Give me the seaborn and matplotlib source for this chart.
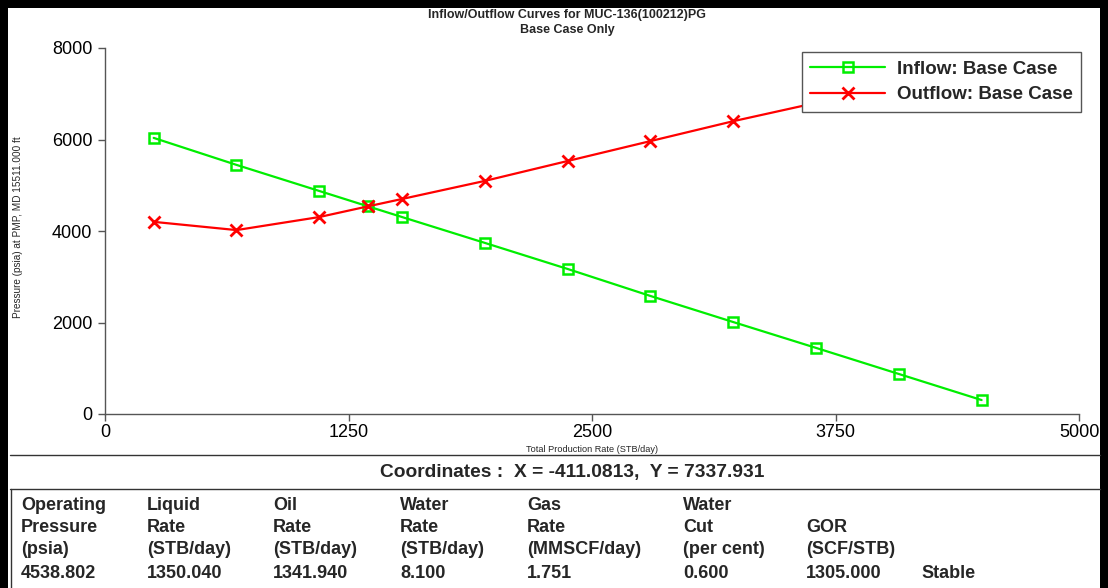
"""
ipr_vlp_chart.py -- inflow/outflow (IPR/VLP) curves for MUC-136, base case.
"""

import matplotlib
matplotlib.use("Agg")
import matplotlib.pyplot as plt
from matplotlib.lines import Line2D
from matplotlib.patches import Rectangle
import pandas as pd
import seaborn as sns

# -- Data ----------------------------------------------------------------------
inflow_rate = [250, 675, 1100, 1350, 1525, 1950, 2375, 2800, 3225, 3650, 4075, 4500]
inflow_pressure = [6035, 5445, 4875, 4539, 4305, 3740, 3170, 2580, 2010, 1445, 875, 305]

outflow_rate = [250, 675, 1100, 1350, 1525, 1950, 2375, 2800, 3225, 3650]
outflow_pressure = [4200, 4020, 4305, 4539, 4700, 5095, 5530, 5965, 6400, 6800]

x_ticks = [0, 1250, 2500, 3750, 5000]
y_ticks = [0, 2000, 4000, 6000, 8000]

table_headers = [
    ["Operating", "Pressure", "(psia)"],
    ["Liquid", "Rate", "(STB/day)"],
    ["Oil", "Rate", "(STB/day)"],
    ["Water", "Rate", "(STB/day)"],
    ["Gas", "Rate", "(MMSCF/day)"],
    ["Water", "Cut", "(per cent)"],
    ["", "GOR", "(SCF/STB)"],
    ["", "", ""],
]
table_values = ["4538.802", "1350.040", "1341.940", "8.100", "1.751", "0.600", "1305.000", "Stable"]

coords_text = "Coordinates :  X = -411.0813,  Y = 7337.931"

GREEN = "#00EE00"
RED = "#FF0000"

# -- Style ---------------------------------------------------------------------
sns.set_style("ticks")
plt.rcParams["font.family"] = ["Liberation Sans", "DejaVu Sans"]

W, H = 1108, 588
fig = plt.figure(figsize=(W / 100, H / 100), dpi=100)
fig.patch.set_facecolor("white")


def fx(px):
    return px / W


def fy(py):
    return 1 - py / H


# -- Main axes -----------------------------------------------------------------
ax = fig.add_axes([fx(105), fy(414), fx(1079) - fx(105), fy(48) - fy(414)])

inflow = pd.DataFrame({"rate": inflow_rate, "pressure": inflow_pressure})
outflow = pd.DataFrame({"rate": outflow_rate, "pressure": outflow_pressure})

green_style = dict(color=GREEN, lw=1.6, marker="s", markersize=7,
                   markerfacecolor="none", markeredgecolor=GREEN, markeredgewidth=1.8)
red_style = dict(color=RED, lw=1.6, marker="x", markersize=9,
                 markeredgecolor=RED, markeredgewidth=2)

sns.lineplot(data=inflow, x="rate", y="pressure", ax=ax, sort=False, **green_style)
sns.lineplot(data=outflow, x="rate", y="pressure", ax=ax, sort=False, zorder=3, **red_style)

ax.set_xlim(0, 5000)
ax.set_ylim(0, 8000)
ax.set_xticks(x_ticks)
ax.set_yticks(y_ticks)
ax.tick_params(axis="both", labelsize=13, length=5, width=1, color="#555555",
               direction="out", labelcolor="black")
ax.tick_params(axis="y", pad=4)
ax.tick_params(axis="x", pad=2)
for side in ["top", "right"]:
    ax.spines[side].set_visible(False)
for side in ["left", "bottom"]:
    ax.spines[side].set_color("#555555")
    ax.spines[side].set_linewidth(1)

ax.set_xlabel("Total Production Rate (STB/day)", fontsize=6.6)
ax.xaxis.set_label_coords(0.5, -0.085)
ax.set_ylabel("Pressure (psia) at PMP, MD 15511.000 ft", fontsize=7.2)
ax.yaxis.set_label_coords(-0.084, 0.51)

handles = [Line2D([], [], **green_style), Line2D([], [], **red_style)]
leg = ax.legend(handles, ["Inflow: Base Case", "Outflow: Base Case"],
                loc="upper right", bbox_to_anchor=(1.002, 0.989), borderaxespad=0,
                fancybox=False, framealpha=1, edgecolor="#555555",
                handlelength=4.0, borderpad=0.45, labelspacing=0.45,
                handletextpad=0.6, prop={"size": 13.5, "weight": "bold"})
leg.get_frame().set_linewidth(1)

# -- Title ---------------------------------------------------------------------
fig.text(fx(567), fy(15), "Inflow/Outflow Curves for MUC-136(100212)PG",
         ha="center", va="center", fontsize=9, fontweight="bold")
fig.text(fx(567), fy(30), "Base Case Only",
         ha="center", va="center", fontsize=9, fontweight="bold")

# -- Coordinates and table -----------------------------------------------------
fig.add_artist(Line2D([fx(10), fx(1100)], [fy(455), fy(455)], color="#333333", lw=1))
fig.add_artist(Line2D([fx(10), fx(1100)], [fy(489), fy(489)], color="#333333", lw=1))
fig.add_artist(Line2D([fx(11), fx(11)], [fy(489), 0], color="#333333", lw=1))

fig.text(fx(572), fy(472), coords_text, ha="center", va="center",
         fontsize=13.8, fontweight="bold")

col_x = [21, 147, 273, 400, 527, 683, 806, 921]
row_y = [505, 527, 550, 573]
for cx, header, value in zip(col_x, table_headers, table_values):
    for ry, line in zip(row_y[:3], header):
        if line:
            fig.text(fx(cx), fy(ry), line, ha="left", va="center",
                     fontsize=13, fontweight="bold")
    fig.text(fx(cx), fy(row_y[3]), value, ha="left", va="center",
             fontsize=13, fontweight="bold")

# -- Outer frame ---------------------------------------------------------------
fig.add_artist(Rectangle((0, fy(8)), 1, fy(0) - fy(8), transform=fig.transFigure,
                         color="black", lw=0))
fig.add_artist(Rectangle((0, 0), fx(8), 1, transform=fig.transFigure,
                         color="black", lw=0))
fig.add_artist(Rectangle((fx(1100), 0), fx(8), 1,
                         transform=fig.transFigure, color="black", lw=0))

fig.savefig("out.png", dpi=100)
